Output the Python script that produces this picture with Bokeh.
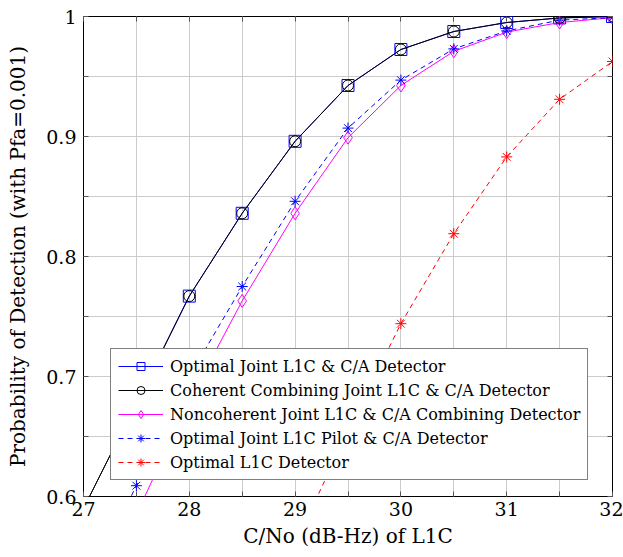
from bokeh.plotting import figure
from bokeh.models import FixedTicker, Legend, LegendItem, LinearAxis, Range1d
from bokeh.embed import file_html
from bokeh.resources import INLINE

cn0 = [27, 27.5, 28, 28.5, 29, 29.5, 30, 30.5, 31, 31.5, 32]
opt_joint = [0.590, 0.678, 0.767, 0.836, 0.896, 0.9425, 0.9725, 0.9875, 0.995, 0.9988, 1.0]
coh_joint = [0.590, 0.678, 0.767, 0.836, 0.896, 0.9425, 0.9725, 0.9875, 0.995, 0.9988, 1.0]
noncoh_joint = [0.50, 0.585, 0.680, 0.763, 0.836, 0.899, 0.9425, 0.971, 0.987, 0.995, 0.999]
opt_pilot = [0.52, 0.609, 0.700, 0.775, 0.846, 0.907, 0.947, 0.973, 0.988, 0.997, 0.999]
opt_l1c = [0.38, 0.43, 0.48, 0.53, 0.56, 0.655, 0.744, 0.819, 0.883, 0.931, 0.9625]

x_ticks = [27, 27.5, 28, 28.5, 29, 29.5, 30, 30.5, 31, 31.5, 32]
x_labels = {27: "27", 28: "28", 29: "29", 30: "30", 31: "31", 32: "32"}
y_ticks = [0.6, 0.65, 0.7, 0.75, 0.8, 0.85, 0.9, 0.95, 1.0]
y_labels = {0.6: "0.6", 0.7: "0.7", 0.8: "0.8", 0.9: "0.9", 1.0: "1"}

FONT = "DejaVu Serif"

p = figure(frame_width=529, frame_height=480, output_backend="svg", toolbar_location=None,
           x_range=Range1d(27, 32), y_range=Range1d(0.6, 1.0),
           min_border_left=83, min_border_right=11, min_border_top=16, min_border_bottom=8,
           x_axis_label="C/No (dB-Hz) of L1C",
           y_axis_label="Probability of Detection (with Pfa=0.001)")
p.background_fill_color = "white"
p.border_fill_color = "white"
p.outline_line_color = "black"
p.outline_line_width = 1

def style_axis(ax, ticks, labels, show):
    ax.ticker = FixedTicker(ticks=ticks)
    ov = {t: "" for t in ticks}
    if show:
        ov.update(labels)
    ax.major_label_overrides = ov
    ax.major_tick_in = 5
    ax.major_tick_out = 0
    ax.minor_tick_line_color = None
    ax.axis_line_color = None
    ax.major_tick_line_color = "#555555"
    ax.major_label_text_font = FONT
    ax.major_label_text_font_size = "19px" if show else "0px"
    ax.major_label_text_color = "black"
    ax.axis_label_text_font = FONT
    ax.axis_label_text_font_size = "20px"
    ax.axis_label_text_font_style = "normal"
    ax.axis_label_text_color = "black"
    if not show:
        ax.major_label_standoff = 0

style_axis(p.xaxis[0], x_ticks, x_labels, True)
style_axis(p.yaxis[0], y_ticks, y_labels, True)
top_ax = LinearAxis()
right_ax = LinearAxis()
style_axis(top_ax, x_ticks, x_labels, False)
style_axis(right_ax, y_ticks, y_labels, False)
p.add_layout(top_ax, "above")
p.add_layout(right_ax, "right")

p.xaxis[0].axis_label_text_font_size = "21px"
p.xaxis[0].major_label_standoff = 11
p.xaxis[0].axis_label_standoff = 11
p.yaxis[0].major_label_standoff = 7
p.yaxis[0].axis_label_standoff = 13

p.xgrid.ticker = FixedTicker(ticks=x_ticks)
p.ygrid.ticker = FixedTicker(ticks=y_ticks)
for g in (p.xgrid[0], p.ygrid[0]):
    g.grid_line_color = "#cccccc"
    g.grid_line_width = 1

items = []
l1 = p.line(cn0, opt_joint, line_color="blue", line_width=1)
m1 = p.scatter(cn0, opt_joint, marker="square", size=12, fill_color=None, line_color="blue", line_width=1)
items.append(("Optimal Joint L1C & C/A Detector", [l1, m1]))

l3 = p.line(cn0, noncoh_joint, line_color="magenta", line_width=1)
m3 = p.scatter(cn0, noncoh_joint, marker="diamond", size=13, fill_color=None, line_color="magenta", line_width=1)

l4 = p.line(cn0, opt_pilot, line_color="blue", line_width=1, line_dash="5 4")
m4 = p.scatter(cn0, opt_pilot, marker="asterisk", size=11, line_color="blue", line_width=1)

l5 = p.line(cn0, opt_l1c, line_color="red", line_width=1, line_dash="5 4")
m5 = p.scatter(cn0, opt_l1c, marker="asterisk", size=11, line_color="red", line_width=1)

l2 = p.line(cn0, coh_joint, line_color="black", line_width=1)
m2 = p.scatter(cn0, coh_joint, marker="circle", size=11, fill_color=None, line_color="black", line_width=1)

items.append(("Coherent Combining Joint L1C & C/A Detector", [l2, m2]))
items.append(("Noncoherent Joint L1C & C/A Combining Detector", [l3, m3]))
items.append(("Optimal Joint L1C Pilot & C/A Detector", [l4, m4]))
items.append(("Optimal L1C Detector", [l5, m5]))

legend = Legend(items=[LegendItem(label=t, renderers=r) for t, r in items],
                location=(27, 16))
legend.label_text_font = FONT
legend.label_text_font_size = "16px"
legend.label_text_color = "black"
legend.label_standoff = 7
legend.glyph_width = 45
legend.glyph_height = 20
legend.label_height = 20
legend.spacing = 4
legend.padding = 7
legend.margin = 0
legend.border_line_color = "black"
legend.border_line_width = 1
legend.background_fill_alpha = 1.0
p.add_layout(legend, "center")

open("out.html", "w").write(file_html(p, INLINE))
